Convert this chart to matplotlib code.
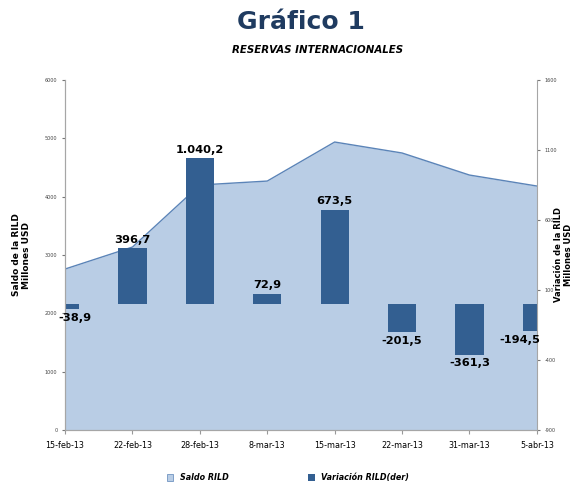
import matplotlib.pyplot as plt
import numpy as np
from matplotlib import font_manager
from matplotlib.patches import Patch

plt.rcParams["axes.unicode_minus"] = False

fechas = ["15-feb-13", "22-feb-13", "28-feb-13", "8-mar-13",
          "15-mar-13", "22-mar-13", "31-mar-13", "5-abr-13"]
saldo = [2760, 3137, 4200, 4268, 4937, 4749, 4371, 4183]
variacion = [-38.9, 396.7, 1040.2, 72.9, 673.5, -201.5, -361.3, -194.5]
etiquetas = ["-38,9", "396,7", "1.040,2", "72,9", "673,5", "-201,5", "-361,3", "-194,5"]

AREA_COLOR = "#B9CDE5"
LINE_COLOR = "#5B84B8"
BAR_COLOR = "#335F91"
TITLE_COLOR = "#1F3B60"

# narrow font if there is one
names = {f.name for f in font_manager.fontManager.ttflist}
NARROW = "Liberation Sans Narrow" if "Liberation Sans Narrow" in names else None
narrow_kw = {"family": NARROW} if NARROW else {}
shrink = 1.0 if NARROW else 0.82

fig = plt.figure(figsize=(5.76, 4.9), dpi=100)
ax = fig.add_axes([0.113, 0.1224, 0.819, 0.7143])
x = np.arange(len(fechas))

# area (left axis)
ax.fill_between(x, saldo, 0, color=AREA_COLOR, lw=0)
ax.plot(x, saldo, color=LINE_COLOR, lw=1)
ax.set_xlim(0, len(fechas) - 1)
ax.set_ylim(0, 6000)
ax.set_yticks(np.arange(0, 6001, 1000))
ax.set_xticks(x)
ax.set_xticklabels(fechas, fontsize=7 * shrink, **narrow_kw)
ax.tick_params(axis="y", labelsize=3.5, length=2, colors="#777777", labelcolor="#444444")
ax.tick_params(axis="x", length=3, colors="#999999", labelcolor="black", pad=5)

# bars (right axis)
ax2 = ax.twinx()
ax2.bar(x, variacion, width=0.42, color=BAR_COLOR)
ax2.set_ylim(-900, 1600)
ax2.set_yticks(np.arange(-900, 1601, 500))
ax2.tick_params(axis="y", labelsize=3.5, length=2, colors="#777777", labelcolor="#444444")

# label shifts for the clipped end bars
shifts = [0.14, 0, 0, 0, 0, 0, 0, -0.25]
for xi, v, lab, dx in zip(x, variacion, etiquetas, shifts):
    if v >= 0:
        ax2.text(xi + dx, v + 25, lab, ha="center", va="bottom",
                 fontsize=10 * shrink, fontweight="bold", **narrow_kw)
    else:
        ax2.text(xi + dx, v - 25, lab, ha="center", va="top",
                 fontsize=10 * shrink, fontweight="bold", **narrow_kw)

for a in (ax, ax2):
    a.spines["top"].set_visible(False)
    for s in ("left", "right", "bottom"):
        a.spines[s].set_color("#A6A6A6")
ax.spines["right"].set_visible(False)

ax.set_ylabel("Saldo de la RILD\nMillones USD", fontsize=6.5, fontweight="bold",
              labelpad=10, linespacing=1.1)
fig.text(0.978, 0.48, "Variación de la RILD\nMillones USD", rotation=90,
         ha="center", va="center", fontsize=6, fontweight="bold", linespacing=1.1)

fig.text(0.522, 0.955, "Gráfico 1", ha="center", va="center", fontsize=18,
         fontweight="bold", color=TITLE_COLOR)
fig.text(0.552, 0.898, "RESERVAS INTERNACIONALES", ha="center", va="center",
         fontsize=9 * shrink, fontweight="bold", style="italic", color="black", **narrow_kw)

handles = [Patch(facecolor=AREA_COLOR, edgecolor=LINE_COLOR, lw=0.5),
           Patch(facecolor=BAR_COLOR)]
fig.legend(handles, ["Saldo RILD", "Variación RILD(der)"], loc="center",
           bbox_to_anchor=(0.5, 0.025), ncol=2, frameon=False,
           prop={"weight": "bold", "style": "italic", "size": 7 * shrink, **narrow_kw},
           columnspacing=10, handlelength=0.8, handleheight=0.8)

fig.savefig("out.png", dpi=100)
